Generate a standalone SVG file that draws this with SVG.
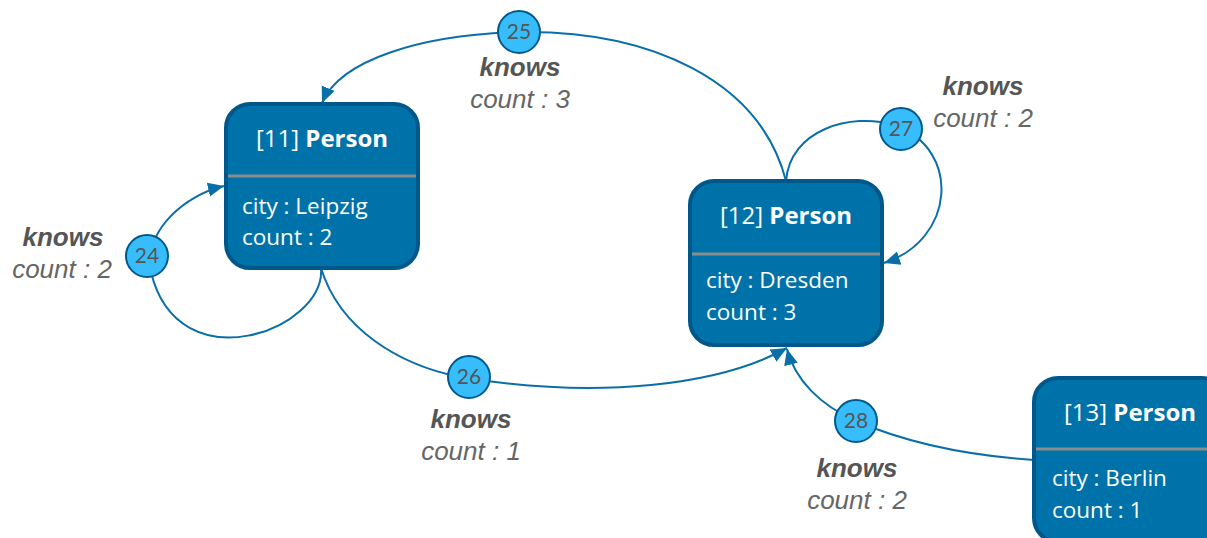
<svg xmlns="http://www.w3.org/2000/svg" width="1207" height="538" viewBox="0 0 1207 538">
  <style>
    .node-box { fill: #0072aa; stroke: #00588a; stroke-width: 4; }
    .divider { stroke: #8c8c8c; stroke-width: 3; }
    .title { font-family: "Open Sans", Lato, sans-serif; font-size: 24px; fill: #ffffff; text-anchor: middle; }
    .title .b { font-weight: bold; }
    .prop { font-family: "Open Sans", Lato, sans-serif; font-size: 22.5px; fill: #ffffff; }
    .edge { fill: none; stroke: #0a6fa8; stroke-width: 2; }
    .badge { fill: #38bdfc; stroke: #00588a; stroke-width: 2; }
    .badge-num { font-family: Lato, "Open Sans", sans-serif; font-size: 21px; fill: #555555; text-anchor: middle; }
    .rel { font-family: "Liberation Sans", Arial, sans-serif; font-size: 26px; font-weight: bold; font-style: italic; fill: #555555; text-anchor: middle; }
    .cnt { font-family: "Liberation Sans", Arial, sans-serif; font-size: 26px; font-style: italic; fill: #666666; text-anchor: middle; }
  </style>
  <defs>
    <marker id="arrow" markerUnits="userSpaceOnUse" markerWidth="18" markerHeight="16" refX="16" refY="8" orient="auto">
      <path d="M0,1 L16,8 L0,15 Z" fill="#0a6fa8"/>
    </marker>
  </defs>

  <rect width="1207" height="538" fill="#ffffff"/>

  <!-- connectors -->
  <g id="connectors">
    <path id="e24" class="edge" marker-end="url(#arrow)" d="M321,268 C326,330 178,385 151,272 C144,230 185,195 224,186"/>
    <path id="e25" class="edge" marker-end="url(#arrow)" d="M786,181 C760,80 650,30 519,32 C420,35 340,60 322,103"/>
    <path id="e26" class="edge" marker-end="url(#arrow)" d="M321,268 C340,330 400,365 460,377 C600,400 720,385 787,348"/>
    <path id="e27" class="edge" marker-end="url(#arrow)" d="M786,181 C790,130 850,112 895,125 C962,150 955,240 884,263"/>
    <path id="e28" class="edge" marker-end="url(#arrow)" d="M1034,460 C960,455 900,440 856,421 C820,405 795,380 787,349"/>
  </g>

  <!-- nodes -->
  <g id="n11">
    <rect class="node-box" x="226" y="104" width="192" height="164" rx="24"/>
    <line class="divider" x1="228" y1="176" x2="416" y2="176"/>
    <text class="title" x="322" y="147">[11] <tspan class="b">Person</tspan></text>
    <text class="prop" x="242" y="214">city : Leipzig</text>
    <text class="prop" x="242" y="245">count : 2</text>
  </g>
  <g id="n12">
    <rect class="node-box" x="690" y="181" width="192" height="164" rx="24"/>
    <line class="divider" x1="692" y1="254" x2="880" y2="254"/>
    <text class="title" x="786" y="224">[12] <tspan class="b">Person</tspan></text>
    <text class="prop" x="706" y="288">city : Dresden</text>
    <text class="prop" x="706" y="320">count : 3</text>
  </g>
  <g id="n13">
    <rect class="node-box" x="1034" y="378" width="192" height="164" rx="24"/>
    <line class="divider" x1="1036" y1="449" x2="1224" y2="449"/>
    <text class="title" x="1130" y="421">[13] <tspan class="b">Person</tspan></text>
    <text class="prop" x="1052" y="486">city : Berlin</text>
    <text class="prop" x="1052" y="518">count : 1</text>
  </g>

  <!-- edge badges and labels -->
  <g id="b24">
    <circle class="badge" cx="147" cy="256" r="21"/>
    <text class="badge-num" x="147" y="263">24</text>
    <text class="rel" x="63" y="246">knows</text>
    <text class="cnt" x="62" y="278">count : 2</text>
  </g>
  <g id="b25">
    <circle class="badge" cx="519" cy="32" r="21"/>
    <text class="badge-num" x="519" y="39">25</text>
    <text class="rel" x="520" y="76">knows</text>
    <text class="cnt" x="520" y="108">count : 3</text>
  </g>
  <g id="b26">
    <circle class="badge" cx="469" cy="377" r="21"/>
    <text class="badge-num" x="469" y="384">26</text>
    <text class="rel" x="471" y="428">knows</text>
    <text class="cnt" x="471" y="460">count : 1</text>
  </g>
  <g id="b27">
    <circle class="badge" cx="901" cy="129" r="21"/>
    <text class="badge-num" x="901" y="136">27</text>
    <text class="rel" x="983" y="95">knows</text>
    <text class="cnt" x="983" y="127">count : 2</text>
  </g>
  <g id="b28">
    <circle class="badge" cx="856" cy="421" r="21"/>
    <text class="badge-num" x="856" y="428">28</text>
    <text class="rel" x="857" y="477">knows</text>
    <text class="cnt" x="857" y="509">count : 2</text>
  </g>
</svg>
